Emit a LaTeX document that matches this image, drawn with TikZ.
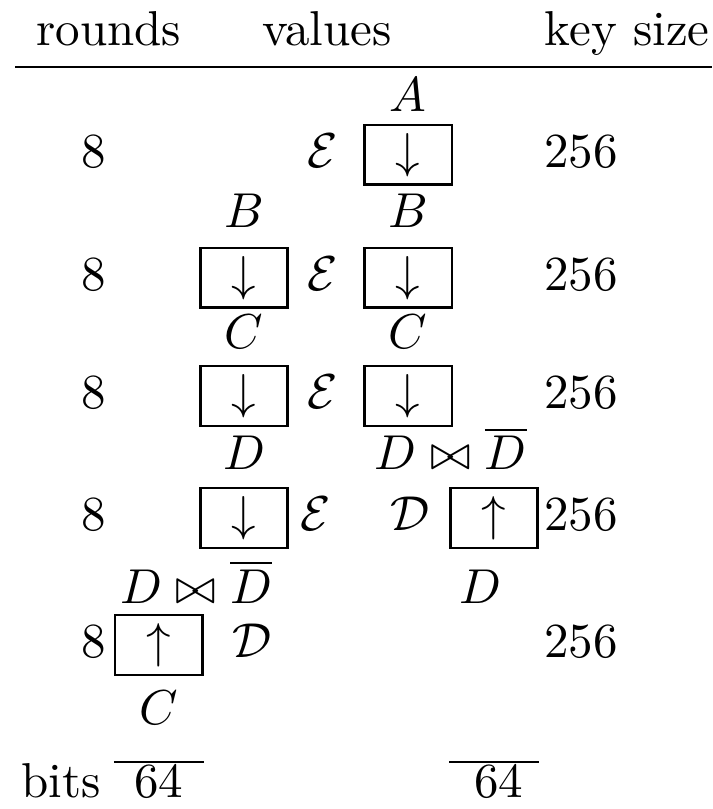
\documentclass[tikz,border=0pt]{standalone}
\usepackage{amsmath}
\usepackage{amssymb}
\tikzset{
  cbox/.style = {draw, line width=0.5pt, minimum width=17.8pt, minimum height=12.2pt,
                 inner sep=0pt},
  txt/.style  = {anchor=base, inner sep=0pt},
  rule/.style = {line width=0.5pt},
}
\begin{document}
\begin{tikzpicture}[x=1pt, y=1pt]
    \useasboundingbox (0,0) rectangle (145.3,165.1);
    % header
    \node[txt] (hrounds) at (22.2,155.9) {rounds};
    \node[txt] (hvalues) at (66.7,155.9) {values};
    \node[txt] (hkey)    at (128.0,155.9) {key size};
    \draw[rule] (3.1,151.4) -- (145.3,151.4);
    % row 1
    \node[txt] (a1)  at (83.3,142.4) {$A$};
    \node[txt] (r1)  at (19.2,131.0) {8};
    \node[txt] (e1)  at (65.9,131.0) {$\mathcal{E}$};
    \node[cbox] (b13) at (83.3,133.5) {$\downarrow$};
    \node[txt] (k1)  at (118.6,131.0) {256};
    % row 2
    \node[txt] (l22) at (49.8,118.6) {$B$};
    \node[txt] (l23) at (83.3,118.6) {$B$};
    \node[txt] (r2)  at (19.2,105.9) {8};
    \node[cbox] (b22) at (49.8,108.4) {$\downarrow$};
    \node[txt] (e2)  at (65.9,105.9) {$\mathcal{E}$};
    \node[cbox] (b23) at (83.3,108.4) {$\downarrow$};
    \node[txt] (k2)  at (118.6,105.9) {256};
    % row 3
    \node[txt] (l32) at (49.8,93.9) {$C$};
    \node[txt] (l33) at (83.3,93.9) {$C$};
    \node[txt] (r3)  at (19.2,81.8) {8};
    \node[cbox] (b32) at (49.8,84.3) {$\downarrow$};
    \node[txt] (e3)  at (65.9,81.8) {$\mathcal{E}$};
    \node[cbox] (b33) at (83.3,84.3) {$\downarrow$};
    \node[txt] (k3)  at (118.6,81.8) {256};
    % row 4
    \node[txt] (l42) at (49.8,69.2) {$D$};
    \node[txt] (l44) at (92.0,69.2) {$D \bowtie \overline{D}$};
    \node[txt] (r4)  at (19.2,56.9) {8};
    \node[cbox] (b42) at (49.8,59.4) {$\downarrow$};
    \node[txt] (e4)  at (64.5,56.9) {$\mathcal{E}$};
    \node[txt] (d4)  at (83.7,56.9) {$\mathcal{D}$};
    \node[cbox] (b44) at (100.8,59.4) {$\uparrow$};
    \node[txt] (k4)  at (118.6,56.9) {256};
    % row 5
    \node[txt] (l51) at (40.0,42.0) {$D \bowtie \overline{D}$};
    \node[txt] (l54) at (98.0,42.0) {$D$};
    \node[txt] (r5)  at (19.2,31.0) {8};
    \node[cbox] (b51) at (32.4,33.5) {$\uparrow$};
    \node[txt] (d5)  at (51.4,31.0) {$\mathcal{D}$};
    \node[txt] (k5)  at (118.6,31.0) {256};
    \node[txt] (o51) at (32.4,17.3) {$C$};
    % bits
    \coordinate (bar) at (0,9.6);
    \draw[rule] (b51.west |- bar) -- (b51.east |- bar);
    \draw[rule] (b44.west |- bar) -- (b44.east |- bar);
    \node[txt] (bits) at (12.4,2.4) {bits};
    \node[txt] (w1)   at (32.4,2.4) {64};
    \node[txt] (w4)   at (101.8,2.4) {64};
\end{tikzpicture}
\end{document}
